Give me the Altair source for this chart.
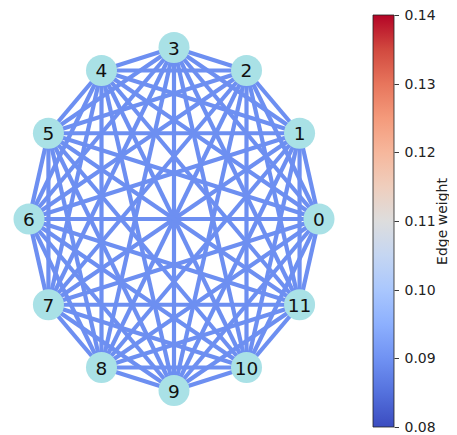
import altair as alt
import pandas as pd

# Node layout (circular layout positions)
node_ids = [0, 1, 2, 3, 4, 5, 6, 7, 8, 9, 10, 11]
node_x = [1.0, 0.866, 0.5, 0.0, -0.5, -0.866, -1.0, -0.866, -0.5, 0.0, 0.5, 0.866]
node_y = [0.0, 0.5, 0.866, 1.0, 0.866, 0.5, 0.0, -0.5, -0.866, -1.0, -0.866, -0.5]

# Edge weights (complete graph, 66 edges, all the same colour)
edge_weight = [
    0.0895, 0.0895, 0.0895, 0.0895, 0.0895, 0.0895, 0.0895, 0.0895, 0.0895, 0.0895, 0.0895,
    0.0895, 0.0895, 0.0895, 0.0895, 0.0895, 0.0895, 0.0895, 0.0895, 0.0895, 0.0895, 0.0895,
    0.0895, 0.0895, 0.0895, 0.0895, 0.0895, 0.0895, 0.0895, 0.0895, 0.0895, 0.0895, 0.0895,
    0.0895, 0.0895, 0.0895, 0.0895, 0.0895, 0.0895, 0.0895, 0.0895, 0.0895, 0.0895, 0.0895,
    0.0895, 0.0895, 0.0895, 0.0895, 0.0895, 0.0895, 0.0895, 0.0895, 0.0895, 0.0895, 0.0895,
    0.0895, 0.0895, 0.0895, 0.0895, 0.0895, 0.0895, 0.0895, 0.0895, 0.0895, 0.0895, 0.0895,
]

colorbar_ticks = [0.08, 0.09, 0.10, 0.11, 0.12, 0.13, 0.14]
colorbar_domain = [0.08, 0.14]

# coolwarm colour stops
coolwarm = [
    "#3b4cc0", "#4d68d7", "#6282ea", "#779af7", "#8db0fe", "#a3c2ff",
    "#b8d0f9", "#ccd9ee", "#dddddd", "#ecd3c5", "#f5c4ad", "#f7b194",
    "#f49a7b", "#ec7f63", "#de604d", "#cb3e38", "#b40426",
]

nodes = pd.DataFrame({"id": [str(i) for i in node_ids], "x": node_x, "y": node_y})

rows = []
k = 0
for i in range(len(node_ids)):
    for j in range(i + 1, len(node_ids)):
        rows.append({"x1": node_x[i], "y1": node_y[i], "x2": node_x[j], "y2": node_y[j],
                     "weight": edge_weight[k]})
        k += 1
edges = pd.DataFrame(rows)

xs = alt.Scale(domain=[-1, 1], range=[21, 311], nice=False, zero=False)
ys = alt.Scale(domain=[-1, 1], range=[382.5, 39.5], nice=False, zero=False)
cs = alt.Scale(domain=colorbar_domain, range=coolwarm, interpolate="rgb")

edge_layer = alt.Chart(edges).mark_rule(strokeWidth=4.2, opacity=1).encode(
    x=alt.X("x1:Q", scale=xs, axis=None),
    y=alt.Y("y1:Q", scale=ys, axis=None),
    x2="x2:Q",
    y2="y2:Q",
    color=alt.Color(
        "weight:Q",
        scale=cs,
        legend=alt.Legend(
            orient="none",
            legendX=365,
            legendY=7,
            direction="vertical",
            gradientLength=412,
            gradientThickness=21,
            gradientStrokeColor="#222222",
            gradientStrokeWidth=0.8,
            labelExpr="''",
            title=None,
            padding=0,
        ),
    ),
)

node_layer = alt.Chart(nodes).mark_circle(size=962, opacity=1, color="#a9e1e6").encode(
    x=alt.X("x:Q", scale=xs, axis=None),
    y=alt.Y("y:Q", scale=ys, axis=None),
)

label_layer = alt.Chart(nodes).mark_text(
    fontSize=18.5, color="#111111", align="center", baseline="middle", dy=1
).encode(
    x=alt.X("x:Q", scale=xs, axis=None),
    y=alt.Y("y:Q", scale=ys, axis=None),
    text="id:N",
)

axis_layer = alt.Chart(edges).mark_point(opacity=0).encode(
    y=alt.Y(
        "weight:Q",
        scale=alt.Scale(domain=colorbar_domain, range=[419, 7], nice=False, zero=False),
        axis=alt.Axis(
            orient="right",
            offset=-55,
            values=colorbar_ticks,
            format=".2f",
            domain=False,
            grid=False,
            ticks=True,
            tickSize=4.5,
            tickWidth=0.9,
            tickColor="#222222",
            labelFontSize=14,
            labelColor="#222222",
            labelPadding=5.5,
            labelOffset=0.5,
            labelFlush=False,
            labelOverlap=False,
            title="Edge weight",
            titleAngle=270,
            titleX=52.5,
            titleY=213,
            titleAlign="center",
            titleBaseline="alphabetic",
            titleFontSize=14,
            titleFontWeight="normal",
            titleColor="#222222",
        ),
    ),
)

chart = (
    alt.layer(edge_layer, node_layer, label_layer, axis_layer)
    .resolve_scale(y="independent")
    .properties(width=441, height=427, padding=0, autosize=alt.AutoSizeParams(type="none"))
    .configure(font="DejaVu Sans")
    .configure_view(stroke=None)
)

chart.save("out.html", embed_options={"renderer": "svg", "actions": False})
